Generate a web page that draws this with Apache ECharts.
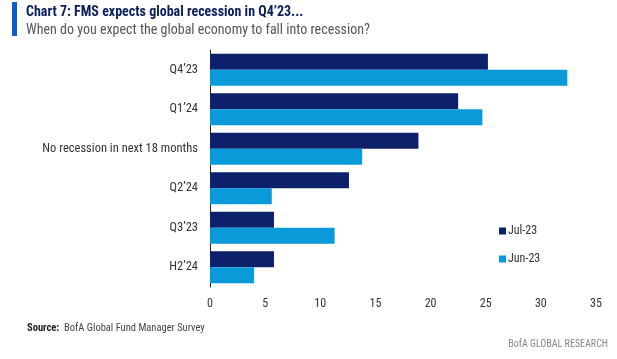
<!DOCTYPE html>
<html><head><meta charset="utf-8">
<script src="https://cdn.jsdelivr.net/npm/echarts@6/dist/echarts.min.js"></script>
<style>html,body{margin:0;padding:0;background:#fff}#c{width:617px;height:359px}</style>
</head><body><div id="c"></div>
<script>
const categories = ["Q4\u201923", "Q1\u201924", "No recession in next 18 months", "Q2\u201924", "Q3\u201923", "H2\u201924"];
const jul23 = [25.2, 22.5, 18.9, 12.6, 5.8, 5.8];
const jun23 = [32.4, 24.7, 13.8, 5.6, 11.3, 4.0];
const seriesNames = ["Jul-23", "Jun-23"];
const xTicks = [0, 5, 10, 15, 20, 25, 30, 35];

const FONT = '"Roboto Condensed", "DejaVu Sans Condensed", Roboto, sans-serif';
const chart = echarts.init(document.getElementById('c'));
chart.setOption({
  animation: false,
  backgroundColor: '#fff',
  textStyle: {fontFamily: FONT},
  graphic: [
    {type: 'rect', shape: {x: 12, y: 2, width: 5, height: 34}, style: {fill: '#0b5fc7'}},
    {type: 'text', left: 26, top: 5, style: {text: 'Chart 7: FMS expects global recession in Q4\u201923...', font: 'bold 14px ' + FONT, fill: '#0c1f5c'}},
    {type: 'text', left: 26, top: 23, style: {text: 'When do you expect the global economy to fall into recession?', font: '14px ' + FONT, fill: '#555'}},
    {type: 'text', left: 27, top: 323, style: {text: '{b|Source:}  BofA Global Fund Manager Survey', font: '10.5px ' + FONT, fill: '#444', rich: {b: {fontWeight: 'bold', fontSize: 10.5, fontFamily: FONT, fill: '#222', color: '#222'}}}},
    {type: 'text', right: 9, top: 339, style: {text: 'BofA GLOBAL RESEARCH', font: '10px ' + FONT, fill: '#888'}}
  ],
  legend: {
    orient: 'vertical', left: 494, top: 220, itemGap: 16,
    itemWidth: 7, itemHeight: 7, icon: 'rect',
    textStyle: {fontSize: 12, color: '#333', fontFamily: FONT, padding: [0,0,0,-3]},
    data: seriesNames
  },
  grid: {left: 210, right: 21, top: 50, bottom: 72, containLabel: false},
  xAxis: {
    type: 'value', min: 0, max: 35, interval: 5,
    axisLine: {show: false}, axisTick: {show: false}, splitLine: {show: false},
    axisLabel: {color: '#333', fontSize: 12, margin: 11, fontFamily: FONT,
      formatter: v => xTicks.includes(v) ? String(v) : ''}
  },
  yAxis: {
    type: 'category', data: categories, inverse: true,
    axisLine: {show: true, lineStyle: {color: '#222', width: 1}},
    axisTick: {show: false},
    axisLabel: {color: '#333', fontSize: 12.5, margin: 12, fontFamily: FONT}
  },
  series: [
    {name: seriesNames[0], type: 'bar', data: jul23, barWidth: 16, barGap: '0%', itemStyle: {color: '#0c2169'}},
    {name: seriesNames[1], type: 'bar', data: jun23, barWidth: 16, barGap: '0%', itemStyle: {color: '#0a9ad9'}}
  ]
});
</script></body></html>
